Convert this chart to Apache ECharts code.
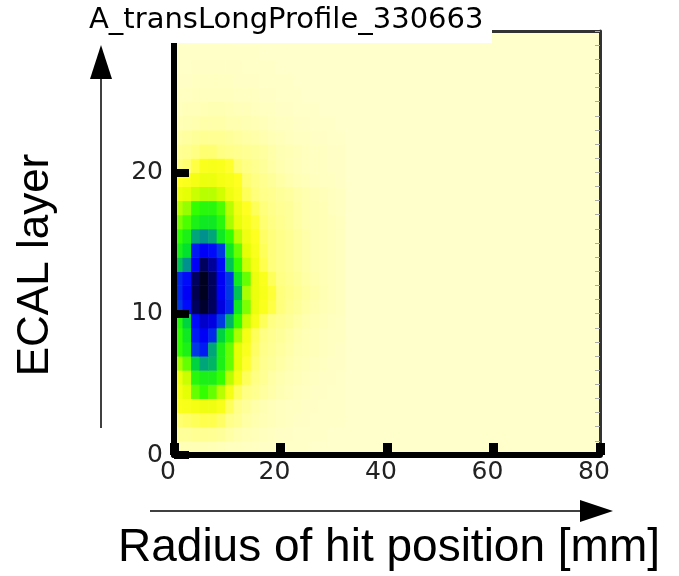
<!DOCTYPE html>
<html>
<head>
<meta charset="utf-8">
<title>A_transLongProfile_330663</title>
<script src="https://cdn.jsdelivr.net/npm/echarts@6/dist/echarts.min.js"></script>
<style>
html, body { margin: 0; padding: 0; background: #fff; }
#main { width: 679px; height: 576px; }
</style>
</head>
<body>
<div id="main"></div>
<script>
// radius bins of 1.6 mm, rows are ECAL layers 0..29 (first 20 bins, the rest are ~empty)
const binWidth = 1.6;
const xTicks = [0, 20, 40, 60, 80];
const yTicks = [0, 10, 20, 30];
const layerCounts = [
  [6, 6, 6, 6, 6, 5, 4, 4, 3, 3, 2, 2, 1, 1, 1, 1, 0, 0, 0, 0],
  [12, 12, 13, 13, 13, 12, 10, 8, 6, 5, 4, 3, 2, 2, 1, 1, 1, 1, 0, 0],
  [18, 19, 20, 21, 21, 19, 15, 13, 10, 8, 6, 5, 4, 3, 2, 2, 1, 1, 1, 1],
  [26, 27, 28, 29, 29, 27, 20, 15, 12, 9, 7, 5, 4, 3, 3, 2, 2, 1, 1, 1],
  [28, 32, 46, 50, 46, 38, 28, 20, 16, 14, 11, 9, 7, 5, 4, 3, 2, 2, 1, 1],
  [30, 36, 52, 54, 54, 50, 38, 28, 20, 16, 13, 10, 8, 6, 5, 4, 3, 2, 2, 1],
  [40, 46, 60, 66, 64, 54, 46, 32, 24, 18, 14, 12, 10, 8, 6, 5, 4, 3, 2, 2],
  [50, 54, 76, 80, 66, 54, 46, 32, 26, 19, 15, 13, 11, 9, 7, 6, 5, 4, 3, 2],
  [50, 56, 80, 84, 78, 60, 52, 40, 28, 20, 16, 14, 12, 10, 8, 6, 5, 4, 3, 3],
  [52, 60, 82, 88, 86, 76, 64, 50, 36, 27, 20, 16, 14, 12, 10, 8, 6, 5, 4, 3],
  [76, 82, 96, 99, 96, 86, 78, 56, 44, 30, 26, 22, 17, 14, 12, 10, 8, 6, 5, 4],
  [78, 84, 97, 100, 96, 84, 76, 62, 40, 30, 27, 23, 17, 15, 13, 11, 9, 7, 5, 4],
  [78, 82, 96, 100, 96, 84, 76, 56, 46, 30, 26, 20, 16, 14, 12, 10, 8, 6, 5, 4],
  [62, 68, 84, 96, 92, 82, 62, 50, 36, 28, 21, 17, 15, 13, 11, 9, 7, 6, 5, 4],
  [54, 58, 80, 84, 82, 76, 56, 46, 32, 26, 20, 17, 15, 13, 11, 9, 7, 6, 5, 4],
  [50, 54, 66, 68, 66, 56, 50, 38, 29, 25, 19, 17, 15, 13, 11, 9, 7, 6, 5, 4],
  [44, 48, 54, 56, 56, 52, 40, 31, 27, 23, 18, 16, 14, 12, 10, 8, 7, 6, 5, 4],
  [38, 42, 50, 52, 52, 48, 38, 29, 25, 20, 17, 15, 13, 12, 10, 8, 7, 6, 4, 3],
  [30, 32, 36, 38, 38, 35, 29, 26, 20, 17, 15, 14, 12, 11, 9, 8, 6, 5, 4, 3],
  [25, 26, 28, 30, 30, 28, 27, 25, 18, 16, 14, 12, 10, 8, 6, 5, 4, 3, 3, 2],
  [16, 18, 22, 26, 27, 26, 24, 18, 16, 14, 12, 10, 8, 6, 5, 4, 3, 3, 2, 2],
  [13, 14, 16, 18, 18, 16, 15, 14, 13, 12, 11, 9, 7, 6, 5, 4, 3, 3, 2, 2],
  [10, 11, 12, 13, 13, 13, 12, 11, 10, 9, 8, 6, 5, 4, 3, 3, 2, 2, 1, 1],
  [6, 7, 8, 9, 9, 9, 8, 8, 7, 6, 5, 4, 3, 3, 2, 2, 1, 1, 1, 0],
  [4, 5, 5, 6, 7, 7, 6, 5, 5, 4, 3, 3, 2, 2, 1, 1, 1, 0, 0, 0],
  [3, 3, 4, 4, 4, 4, 4, 3, 3, 3, 2, 2, 1, 1, 1, 0, 0, 0, 0, 0],
  [2, 2, 3, 3, 3, 3, 3, 2, 2, 2, 1, 1, 1, 1, 0, 0, 0, 0, 0, 0],
  [1, 1, 2, 2, 2, 2, 2, 2, 1, 1, 1, 1, 0, 0, 0, 0, 0, 0, 0, 0],
  [1, 1, 1, 1, 1, 1, 1, 1, 1, 1, 0, 0, 0, 0, 0, 0, 0, 0, 0, 0],
  [0, 0, 1, 1, 1, 1, 1, 0, 0, 0, 0, 0, 0, 0, 0, 0, 0, 0, 0, 0]
];

const palette = [
  "#ffffcc", "#ffffae", "#ffff80", "#ffff20", "#e0ff00", "#99ff00", "#33ff00",
  "#00e030", "#00a080", "#0040e0", "#0000ff", "#0000a0", "#000020"
];

var cells = [];
layerCounts.forEach(function (row, layer) {
  row.forEach(function (v, bin) {
    cells.push([bin * binWidth, layer, v]);
  });
});

function renderCell(params, api) {
  var x0 = api.value(0);
  var y0 = api.value(1);
  var p0 = api.coord([x0, y0 + 1]);
  var p1 = api.coord([x0 + binWidth, y0]);
  return {
    type: "rect",
    shape: { x: p0[0], y: p0[1], width: p1[0] - p0[0] + 0.5, height: p1[1] - p0[1] + 0.5 },
    style: { fill: api.visual("color") }
  };
}

var myChart = echarts.init(document.getElementById("main"));
var labelFont = "DejaVu Sans";

myChart.setOption({
  animation: false,
  grid: {
    left: 174, top: 31, width: 426, height: 424,
    show: true, backgroundColor: "#ffffcc", borderWidth: 0,
    outerBoundsMode: "none"
  },
  visualMap: {
    show: false, type: "continuous", min: 0, max: 100,
    dimension: 2, seriesIndex: 0,
    inRange: { color: palette }
  },
  xAxis: [
    {
      type: "value", min: xTicks[0], max: xTicks[xTicks.length - 1],
      interval: xTicks[1] - xTicks[0], z: 10,
      axisLine: { onZero: false, lineStyle: { color: "#000", width: 6 } },
      axisTick: { inside: true, length: 12, lineStyle: { color: "#000", width: 9 } },
      axisLabel: { margin: 5, padding: [0, 12, 0, 0], color: "#222", fontSize: 25, fontFamily: labelFont },
      splitLine: { show: false }
    },
    {
      type: "value", position: "top", min: xTicks[0], max: xTicks[xTicks.length - 1], z: 9,
      axisLine: { onZero: false, lineStyle: { color: "#333", width: 3 } },
      axisTick: { show: false }, axisLabel: { show: false }, splitLine: { show: false }
    }
  ],
  yAxis: [
    {
      type: "value", min: yTicks[0], max: yTicks[yTicks.length - 1],
      interval: yTicks[1] - yTicks[0], z: 10,
      axisLine: { onZero: false, lineStyle: { color: "#000", width: 6 } },
      axisTick: { inside: true, length: 15, lineStyle: { color: "#000", width: 8 } },
      axisLabel: { margin: 11, padding: [0, 0, 10, 0], showMaxLabel: false, color: "#222", fontSize: 25, fontFamily: labelFont },
      splitLine: { show: false }
    },
    {
      type: "value", position: "right", min: yTicks[0], max: yTicks[yTicks.length - 1],
      interval: 1, z: 9,
      axisLine: { onZero: false, lineStyle: { color: "#333", width: 3 } },
      axisTick: { inside: true, length: 5, lineStyle: { color: "#aaa", width: 1 } },
      axisLabel: { show: false }, splitLine: { show: false }
    }
  ],
  series: [
    {
      type: "custom",
      xAxisIndex: 0,
      yAxisIndex: 0,
      clip: true,
      renderItem: renderCell,
      encode: { x: 0, y: 1 },
      data: cells
    }
  ],
  graphic: [
    { type: "rect", z: 100, shape: { x: 84, y: 0, width: 408, height: 43 }, style: { fill: "#fff" } },
    {
      type: "text", z: 101, x: 89, y: 20,
      style: { text: "A_transLongProfile_330663", font: '29px "DejaVu Sans"', fill: "#000", verticalAlign: "middle" }
    },
    { type: "line", z: 100, shape: { x1: 101, y1: 428, x2: 101, y2: 75 }, style: { stroke: "#000", lineWidth: 1.5 } },
    { type: "polygon", z: 100, shape: { points: [[101, 45], [90, 79], [112, 79]] }, style: { fill: "#000" } },
    {
      type: "text", z: 100, x: 36, y: 265, rotation: Math.PI / 2,
      style: { text: "ECAL layer", font: '44px "Liberation Sans"', fill: "#000", align: "center", verticalAlign: "middle" }
    },
    { type: "line", z: 100, shape: { x1: 150, y1: 511, x2: 585, y2: 511 }, style: { stroke: "#000", lineWidth: 1.5 } },
    { type: "polygon", z: 100, shape: { points: [[613, 511], [580, 500], [580, 522]] }, style: { fill: "#000" } },
    {
      type: "text", z: 100, x: 389, y: 548,
      style: { text: "Radius of hit position [mm]", font: '46px "Liberation Sans"', fill: "#000", align: "center", verticalAlign: "middle" }
    }
  ]
});
</script>
</body>
</html>
